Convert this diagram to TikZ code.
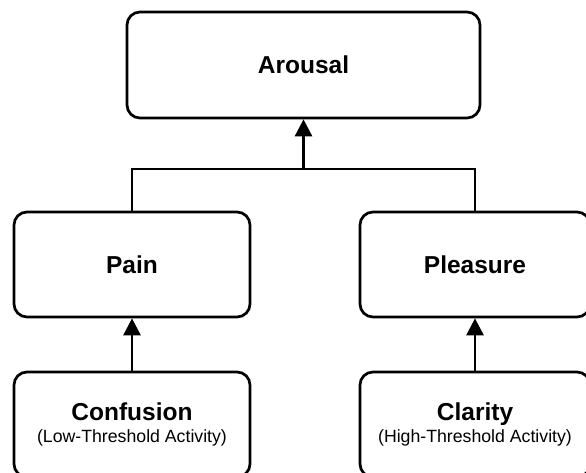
\documentclass[tikz,border=0pt]{standalone}
\usepackage{fontspec}
\setmainfont{Liberation Sans}
\usetikzlibrary{arrows.meta}
\begin{document}
\begin{tikzpicture}[x=1pt,y=-1pt,
  box/.style={draw=black,line width=2.7pt,rounded corners=13pt,fill=white,
    rectangle,inner sep=0pt,align=center},
  big/.style={font=\fontsize{24.5}{26}\selectfont\bfseries},
  twoline/.style={font=\fontsize{17.7}{22.5}\selectfont},
  conn/.style={line width=2.7pt,draw=black},
  arr/.style={conn,-{Triangle[width=17pt,length=17pt]}}]
\useasboundingbox (0,0) rectangle (586,473);
\clip (0,0) rectangle (586,473);
\fill[white] (0,0) rectangle (586,473);
\node[box,big,minimum width=353pt,minimum height=106pt] (arousal) at (303.5,65) {Arousal};
\node[box,big,minimum width=236pt,minimum height=105pt] (pain) at (132,264.5) {Pain};
\node[box,big,minimum width=230pt,minimum height=105pt] (pleasure) at (475,264.5) {Pleasure};
\node[box,twoline,minimum width=236pt,minimum height=105pt] (confusion) at (132,424.5)
  {{\fontsize{24.5}{22.5}\selectfont\bfseries Confusion}\\(Low-Threshold Activity)};
\node[box,twoline,minimum width=230pt,minimum height=105pt] (clarity) at (475,424.5)
  {{\fontsize{24.5}{22.5}\selectfont\bfseries Clarity}\\(High-Threshold Activity)};
\coordinate (jy) at (0,169);
\coordinate (j) at (arousal.south |- jy);
\draw[conn] (pain.north) |- (j) -| (pleasure.north);
\draw[arr] (j) -- (arousal.south);
\draw[arr] (confusion.north) -- (pain.south);
\draw[arr] (clarity.north) -- (pleasure.south);
\end{tikzpicture}
\end{document}
